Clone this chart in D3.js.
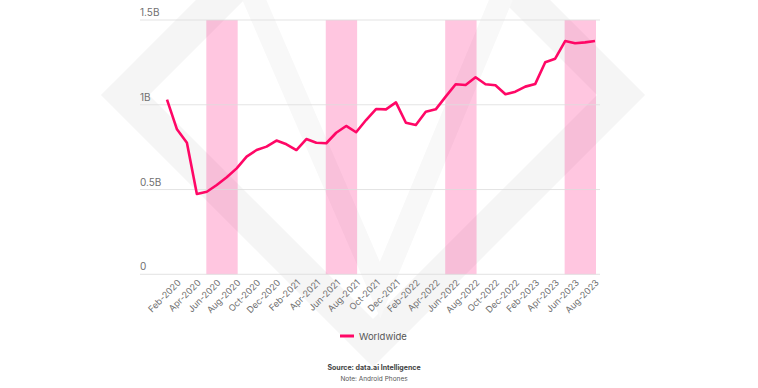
<!DOCTYPE html>
<html>
<head>
<meta charset="utf-8">
<script src="https://cdn.jsdelivr.net/npm/d3@7"></script>
<style>
  html, body { margin: 0; padding: 0; background: #fff; }
  svg text { font-family: Inter, "Noto Sans", sans-serif; }
</style>
</head>
<body>
<figure id="chart" style="margin:0"></figure>
<script>
// monthly downloads, Android phones, worldwide (billions)
const months = [
  'Feb-2020', 'Mar-2020', 'Apr-2020', 'May-2020', 'Jun-2020', 'Jul-2020', 'Aug-2020', 'Sep-2020',
  'Oct-2020', 'Nov-2020', 'Dec-2020', 'Jan-2021', 'Feb-2021', 'Mar-2021', 'Apr-2021', 'May-2021',
  'Jun-2021', 'Jul-2021', 'Aug-2021', 'Sep-2021', 'Oct-2021', 'Nov-2021', 'Dec-2021', 'Jan-2022',
  'Feb-2022', 'Mar-2022', 'Apr-2022', 'May-2022', 'Jun-2022', 'Jul-2022', 'Aug-2022', 'Sep-2022',
  'Oct-2022', 'Nov-2022', 'Dec-2022', 'Jan-2023', 'Feb-2023', 'Mar-2023', 'Apr-2023', 'May-2023',
  'Jun-2023', 'Jul-2023', 'Aug-2023', 'Sep-2023'
];
const worldwide = [
  1.03, 0.855, 0.776, 0.474, 0.487, 0.527, 0.572, 0.625,
  0.694, 0.733, 0.753, 0.789, 0.767, 0.733, 0.798, 0.776,
  0.773, 0.835, 0.875, 0.838, 0.910, 0.975, 0.973, 1.014,
  0.894, 0.881, 0.959, 0.973, 1.048, 1.121, 1.117, 1.162,
  1.121, 1.115, 1.062, 1.077, 1.107, 1.123, 1.251, 1.272,
  1.376, 1.363, 1.368, 1.376
];
// highlighted summer periods (start month, end month)
const highlights = [
  ['Jun-2020', 'Sep-2020'], ['Jun-2021', 'Sep-2021'],
  ['Jun-2022', 'Sep-2022'], ['Jun-2023', 'Sep-2023']
];
const yTicks = [0, 0.5, 1, 1.5];
const yTickLabels = ['0', '0.5B', '1B', '1.5B'];
const xTickLabels = months.filter((m, i) => i % 2 === 0 && i < 43);

const W = 758, H = 388;
const gridLeft = 140, gridRight = 600;

const svg = d3.select('figure#chart')
  .append('svg')
  .attr('width', W)
  .attr('height', H);

// faint logo watermark behind the chart
const wm = svg.append('g').attr('fill', 'none').attr('stroke-linejoin', 'miter');
wm.append('path')
  .attr('d', 'M125,95 L373,-153 L621,95 L373,343 Z')
  .attr('stroke', '#f5f5f5')
  .attr('stroke-width', 34);
wm.append('path')
  .attr('d', 'M250,-10 L380,290 L505,-10')
  .attr('stroke', '#f8f8f8')
  .attr('stroke-width', 22);

const x = d3.scalePoint()
  .domain(months)
  .range([167, 595]);

const y = d3.scaleLinear()
  .domain([0, 1.5])
  .range([274.3, 20]);

// pink highlight bands
svg.append('g')
  .selectAll('rect')
  .data(highlights)
  .enter()
  .append('rect')
  .attr('x', d => x(d[0]) - 0.5)
  .attr('width', d => x(d[1]) - x(d[0]) + 1.5)
  .attr('y', y(1.5))
  .attr('height', y(0) - y(1.5))
  .attr('fill', '#ff0a78')
  .attr('fill-opacity', 0.23);

// horizontal grid + y labels
const grid = svg.append('g');
grid.selectAll('line')
  .data(yTicks)
  .enter()
  .append('line')
  .attr('x1', gridLeft)
  .attr('x2', gridRight)
  .attr('y1', d => y(d))
  .attr('y2', d => y(d))
  .attr('stroke', '#dcdcdc')
  .attr('stroke-opacity', 0.8);
grid.selectAll('text')
  .data(yTicks)
  .enter()
  .append('text')
  .attr('x', gridLeft)
  .attr('y', d => y(d) - 4)
  .attr('font-size', 10)
  .attr('fill', '#707070')
  .text((d, i) => yTickLabels[i]);

// x axis labels (rotated)
const xAxis = svg.append('g')
  .attr('transform', `translate(0, ${y(0)})`)
  .call(d3.axisBottom(x).tickValues(xTickLabels).tickSize(0).tickPadding(0));
xAxis.select('.domain').remove();
xAxis.selectAll('text')
  .attr('font-size', 9)
  .attr('fill', '#707070')
  .attr('dy', null)
  .attr('y', null)
  .attr('text-anchor', 'end')
  .attr('transform', 'translate(14, 9) rotate(-45)');

// line
const line = d3.line()
  .x((d, i) => x(months[i]))
  .y(d => y(d));

svg.append('path')
  .datum(worldwide)
  .attr('fill', 'none')
  .attr('stroke', '#ff0766')
  .attr('stroke-width', 2.6)
  .attr('stroke-linejoin', 'round')
  .attr('d', line);

// legend
svg.append('line')
  .attr('x1', 340).attr('x2', 354)
  .attr('y1', 336).attr('y2', 336)
  .attr('stroke', '#ff0766')
  .attr('stroke-width', 3);
svg.append('text')
  .attr('x', 359).attr('y', 339.5)
  .attr('font-size', 9.5)
  .attr('fill', '#555')
  .text('Worldwide');

// source + note
svg.append('text')
  .attr('x', 374).attr('y', 370)
  .attr('text-anchor', 'middle')
  .attr('font-size', 7)
  .attr('font-weight', 'bold')
  .attr('fill', '#444')
  .text('Source: data.ai Intelligence');
svg.append('text')
  .attr('x', 374).attr('y', 381)
  .attr('text-anchor', 'middle')
  .attr('font-size', 6.5)
  .attr('fill', '#555')
  .text('Note: Android Phones');
</script>
</body>
</html>
